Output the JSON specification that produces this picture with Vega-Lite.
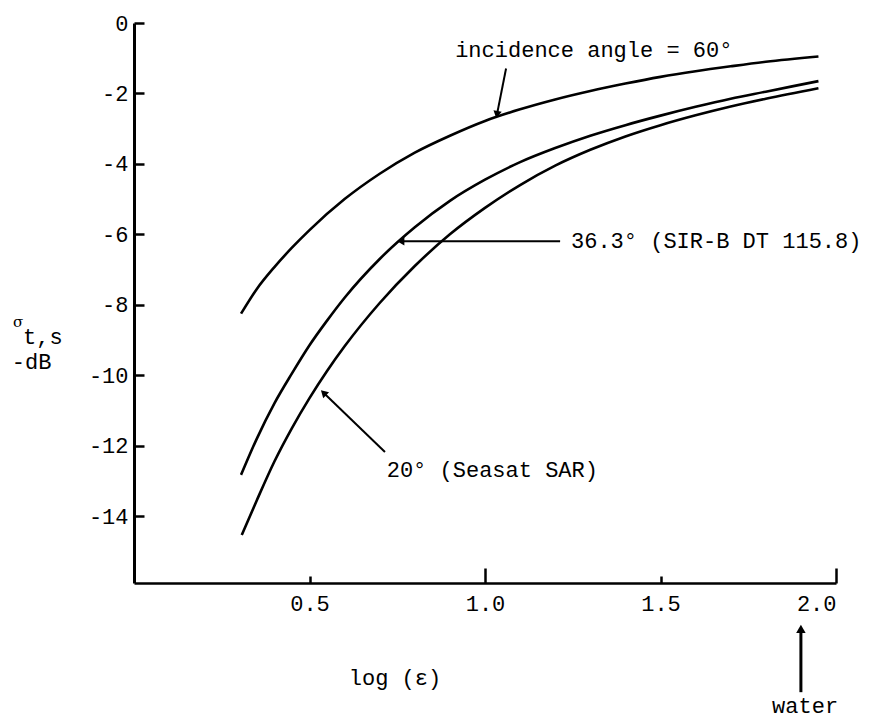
{
  "$schema": "https://vega.github.io/schema/vega-lite/v6.json",
  "width": 702,
  "height": 560,
  "autosize": "none",
  "padding": {"left": 134, "top": 23, "right": 52, "bottom": 138},
  "background": "white",
  "config": {"view": {"stroke": null}, "font": "Liberation Mono", "text": {"font": "Liberation Mono"}},
  "datasets": {
    "curves": [
      {"angle": "60", "log_eps": 0.305, "sigma": -8.25},
      {"angle": "60", "log_eps": 0.35, "sigma": -7.55},
      {"angle": "60", "log_eps": 0.4, "sigma": -6.93},
      {"angle": "60", "log_eps": 0.45, "sigma": -6.38},
      {"angle": "60", "log_eps": 0.5, "sigma": -5.88},
      {"angle": "60", "log_eps": 0.6, "sigma": -5.0},
      {"angle": "60", "log_eps": 0.7, "sigma": -4.28},
      {"angle": "60", "log_eps": 0.8, "sigma": -3.68},
      {"angle": "60", "log_eps": 0.9, "sigma": -3.2},
      {"angle": "60", "log_eps": 1.0, "sigma": -2.78},
      {"angle": "60", "log_eps": 1.1, "sigma": -2.45},
      {"angle": "60", "log_eps": 1.2, "sigma": -2.17},
      {"angle": "60", "log_eps": 1.3, "sigma": -1.93},
      {"angle": "60", "log_eps": 1.4, "sigma": -1.72},
      {"angle": "60", "log_eps": 1.5, "sigma": -1.53},
      {"angle": "60", "log_eps": 1.6, "sigma": -1.37},
      {"angle": "60", "log_eps": 1.7, "sigma": -1.23},
      {"angle": "60", "log_eps": 1.8, "sigma": -1.1},
      {"angle": "60", "log_eps": 1.95, "sigma": -0.95},
      {"angle": "36.3", "log_eps": 0.305, "sigma": -12.83},
      {"angle": "36.3", "log_eps": 0.35, "sigma": -11.8},
      {"angle": "36.3", "log_eps": 0.4, "sigma": -10.8},
      {"angle": "36.3", "log_eps": 0.45, "sigma": -9.95},
      {"angle": "36.3", "log_eps": 0.5, "sigma": -9.15},
      {"angle": "36.3", "log_eps": 0.55, "sigma": -8.45},
      {"angle": "36.3", "log_eps": 0.6, "sigma": -7.8},
      {"angle": "36.3", "log_eps": 0.7, "sigma": -6.7},
      {"angle": "36.3", "log_eps": 0.8, "sigma": -5.8},
      {"angle": "36.3", "log_eps": 0.9, "sigma": -5.05},
      {"angle": "36.3", "log_eps": 1.0, "sigma": -4.45},
      {"angle": "36.3", "log_eps": 1.1, "sigma": -3.95},
      {"angle": "36.3", "log_eps": 1.2, "sigma": -3.55},
      {"angle": "36.3", "log_eps": 1.3, "sigma": -3.2},
      {"angle": "36.3", "log_eps": 1.4, "sigma": -2.9},
      {"angle": "36.3", "log_eps": 1.5, "sigma": -2.63},
      {"angle": "36.3", "log_eps": 1.6, "sigma": -2.38},
      {"angle": "36.3", "log_eps": 1.7, "sigma": -2.15},
      {"angle": "36.3", "log_eps": 1.8, "sigma": -1.95},
      {"angle": "36.3", "log_eps": 1.95, "sigma": -1.65},
      {"angle": "20", "log_eps": 0.307, "sigma": -14.54},
      {"angle": "20", "log_eps": 0.35, "sigma": -13.55},
      {"angle": "20", "log_eps": 0.4, "sigma": -12.45},
      {"angle": "20", "log_eps": 0.45, "sigma": -11.5},
      {"angle": "20", "log_eps": 0.5, "sigma": -10.65},
      {"angle": "20", "log_eps": 0.55, "sigma": -9.88},
      {"angle": "20", "log_eps": 0.6, "sigma": -9.18},
      {"angle": "20", "log_eps": 0.7, "sigma": -7.95},
      {"angle": "20", "log_eps": 0.8, "sigma": -6.9},
      {"angle": "20", "log_eps": 0.9, "sigma": -6.0},
      {"angle": "20", "log_eps": 1.0, "sigma": -5.25},
      {"angle": "20", "log_eps": 1.1, "sigma": -4.6},
      {"angle": "20", "log_eps": 1.2, "sigma": -4.05},
      {"angle": "20", "log_eps": 1.3, "sigma": -3.6},
      {"angle": "20", "log_eps": 1.4, "sigma": -3.22},
      {"angle": "20", "log_eps": 1.5, "sigma": -2.9},
      {"angle": "20", "log_eps": 1.6, "sigma": -2.62},
      {"angle": "20", "log_eps": 1.7, "sigma": -2.37},
      {"angle": "20", "log_eps": 1.8, "sigma": -2.15},
      {"angle": "20", "log_eps": 1.95, "sigma": -1.85}
    ],
    "notes": [
      {"text": "incidence angle = 60°", "x": 0.915, "y": -0.78},
      {"text": "36.3° (SIR-B DT 115.8)", "x": 1.245, "y": -6.2},
      {"text": "20° (Seasat SAR)", "x": 0.72, "y": -12.7},
      {"text": "log (ε)", "x": 0.612, "y": -18.6},
      {"text": "water", "x": 1.818, "y": -19.38},
      {"text": "-dB", "x": -0.348, "y": -9.63}
    ],
    "ytitle": [
      {"text": "t,s", "x": -0.316, "y": -8.92}
    ],
    "sigmasym": [
      {"text": "σ", "x": -0.345, "y": -8.5}
    ],
    "arrow60": [{"x": 1.06, "y": -1.29, "x2": 1.034, "y2": -2.6}],
    "arrow60head": [{"x": 1.034, "y": -2.6}],
    "arrow36": [{"x": 1.214, "y": -6.2, "x2": 0.76, "y2": -6.2}],
    "arrow36head": [{"x": 0.76, "y": -6.2}],
    "arrow20": [{"x": 0.715, "y": -12.18, "x2": 0.54, "y2": -10.5}],
    "arrow20head": [{"x": 0.54, "y": -10.5}],
    "arrowwater": [{"x": 1.9, "y": -19.0, "x2": 1.9, "y2": -17.3}],
    "arrowwaterhead": [{"x": 1.9, "y": -17.2}]
  },
  "layer": [
    {
      "data": {"name": "curves"},
      "mark": {"type": "line", "color": "black", "strokeWidth": 2.6, "interpolate": "monotone"},
      "encoding": {
        "x": {
          "field": "log_eps", "type": "quantitative",
          "scale": {"domain": [0, 2], "nice": false, "zero": false},
          "axis": {
            "values": [0.5, 1, 1.5, 2], "format": ".1f", "title": null, "grid": false,
            "domainColor": "black", "domainWidth": 2.5, "tickColor": "black", "tickWidth": 2.5,
            "tickSize": {"condition": {"test": "datum.value % 1 === 0", "value": -15}, "value": -7},
            "labelPadding": {"condition": {"test": "datum.value % 1 === 0", "value": 25}, "value": 17},
            "labelFont": "Liberation Mono", "labelFontSize": 22, "labelColor": "black"
          }
        },
        "y": {
          "field": "sigma", "type": "quantitative",
          "scale": {"domain": [-15.9, 0], "nice": false, "zero": false},
          "axis": {
            "values": [0, -2, -4, -6, -8, -10, -12, -14], "labelExpr": "datum.value + ''", "title": null, "grid": false,
            "domainColor": "black", "domainWidth": 3, "tickColor": "black", "tickWidth": 2.5, "tickSize": -10,
            "labelFont": "Liberation Mono", "labelFontSize": 22, "labelColor": "black", "labelPadding": 16
          }
        },
        "detail": {"field": "angle"}
      }
    },
    {
      "data": {"name": "notes"},
      "mark": {"type": "text", "align": "left", "baseline": "middle", "fontSize": 22, "color": "black", "font": "Liberation Mono"},
      "encoding": {
        "x": {"field": "x", "type": "quantitative"},
        "y": {"field": "y", "type": "quantitative"},
        "text": {"field": "text"}
      }
    },
    {
      "data": {"name": "ytitle"},
      "mark": {"type": "text", "align": "left", "baseline": "middle", "fontSize": 22, "color": "black", "font": "Liberation Mono"},
      "encoding": {
        "x": {"field": "x", "type": "quantitative"},
        "y": {"field": "y", "type": "quantitative"},
        "text": {"field": "text"}
      }
    },
    {
      "data": {"name": "sigmasym"},
      "mark": {"type": "text", "align": "left", "baseline": "middle", "fontSize": 15, "color": "black", "font": "DejaVu Serif"},
      "encoding": {
        "x": {"field": "x", "type": "quantitative"},
        "y": {"field": "y", "type": "quantitative"},
        "text": {"field": "text"}
      }
    },
    {
      "data": {"name": "arrow60"},
      "mark": {"type": "rule", "color": "black", "strokeWidth": 2},
      "encoding": {
        "x": {"field": "x", "type": "quantitative"}, "y": {"field": "y", "type": "quantitative"},
        "x2": {"field": "x2"}, "y2": {"field": "y2"}
      }
    },
    {
      "data": {"name": "arrow60head"},
      "mark": {"type": "point", "shape": "triangle-up", "filled": true, "color": "black", "size": 70, "angle": 191, "opacity": 1},
      "encoding": {"x": {"field": "x", "type": "quantitative"}, "y": {"field": "y", "type": "quantitative"}}
    },
    {
      "data": {"name": "arrow36"},
      "mark": {"type": "rule", "color": "black", "strokeWidth": 2},
      "encoding": {
        "x": {"field": "x", "type": "quantitative"}, "y": {"field": "y", "type": "quantitative"},
        "x2": {"field": "x2"}, "y2": {"field": "y2"}
      }
    },
    {
      "data": {"name": "arrow36head"},
      "mark": {"type": "point", "shape": "triangle-up", "filled": true, "color": "black", "size": 70, "angle": 270, "opacity": 1},
      "encoding": {"x": {"field": "x", "type": "quantitative"}, "y": {"field": "y", "type": "quantitative"}}
    },
    {
      "data": {"name": "arrow20"},
      "mark": {"type": "rule", "color": "black", "strokeWidth": 2},
      "encoding": {
        "x": {"field": "x", "type": "quantitative"}, "y": {"field": "y", "type": "quantitative"},
        "x2": {"field": "x2"}, "y2": {"field": "y2"}
      }
    },
    {
      "data": {"name": "arrow20head"},
      "mark": {"type": "point", "shape": "triangle-up", "filled": true, "color": "black", "size": 70, "angle": 314, "opacity": 1},
      "encoding": {"x": {"field": "x", "type": "quantitative"}, "y": {"field": "y", "type": "quantitative"}}
    },
    {
      "data": {"name": "arrowwater"},
      "mark": {"type": "rule", "color": "black", "strokeWidth": 3},
      "encoding": {
        "x": {"field": "x", "type": "quantitative"}, "y": {"field": "y", "type": "quantitative"},
        "x2": {"field": "x2"}, "y2": {"field": "y2"}
      }
    },
    {
      "data": {"name": "arrowwaterhead"},
      "mark": {"type": "point", "shape": "triangle-up", "filled": true, "color": "black", "size": 90, "angle": 0, "opacity": 1},
      "encoding": {"x": {"field": "x", "type": "quantitative"}, "y": {"field": "y", "type": "quantitative"}}
    }
  ]
}
